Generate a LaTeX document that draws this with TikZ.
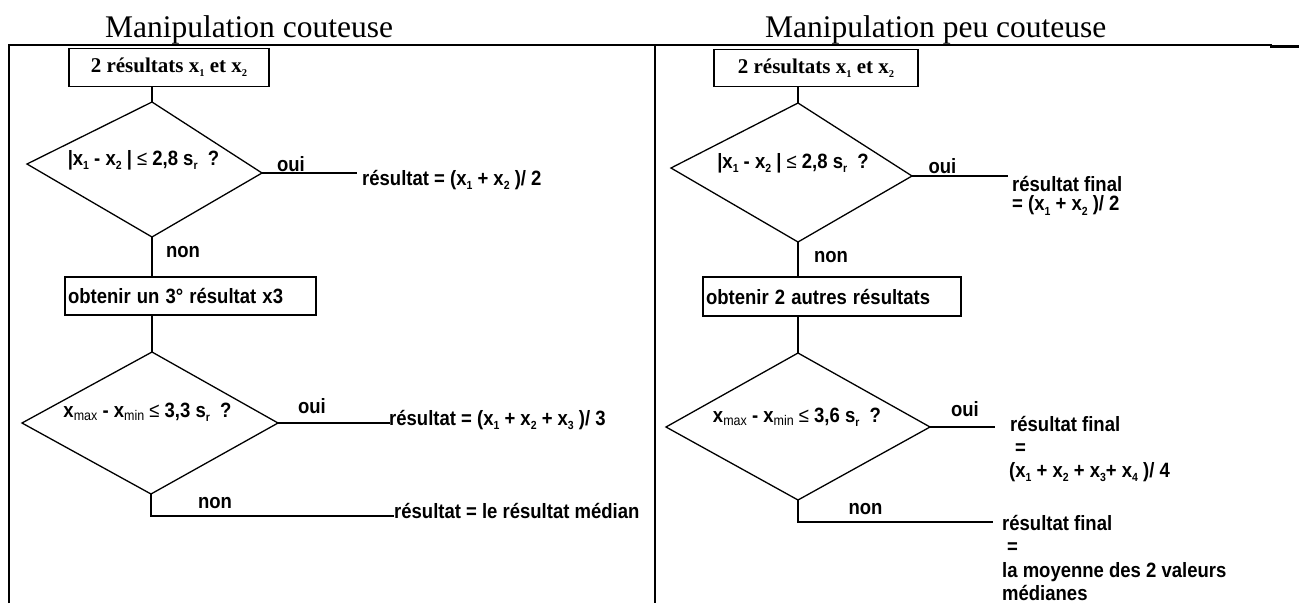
\documentclass[tikz,border=0pt]{standalone}
\usepackage{fontspec}
\setmainfont{Liberation Serif}
\newfontfamily\arialf{Liberation Sans}
\newcommand\sbs[1]{\raisebox{-0.2em}{\fontsize{10.5}{10.5}\selectfont #1}}
\newcommand\sbm[1]{\raisebox{-0.15em}{\mdseries\fontsize{12.5}{12.5}\selectfont #1}}
\newcommand\lesym{{\mdseries ≤}}
\newcommand\tx[1]{\scalebox{1}[1.12]{#1}}
\begin{document}
\begin{tikzpicture}[x=1pt,y=-1pt,
  ttl/.style={font=\fontsize{31.5}{36}\selectfont, inner sep=0, anchor=base west},
  hdbox/.style={draw, line width=1.4pt, font=\bfseries\fontsize{21}{24}\selectfont, inner sep=0, minimum width=#1, minimum height=37.5pt},
  actbox/.style={draw, line width=1.4pt, font=\arialf\bfseries\fontsize{18.5}{22}\selectfont, inner sep=3pt, align=left},
  lbl/.style={font=\arialf\bfseries\fontsize{18.5}{22}\selectfont, inner sep=0},
  res/.style={lbl, anchor=west},
  conn/.style={line width=1.3pt},
  dia/.style={line width=1.3pt, line join=miter},
  frame/.style={line width=2pt},
  thinframe/.style={line width=1.3pt}
]
\useasboundingbox (0,0) rectangle (1299,603);

% ---- frame ----
\draw[frame] (9,603) -- (9,45) -- (1272,45);
\draw[frame, line width=2.4pt] (1270,46.5) -- (1299,46.5);
\draw[thinframe] (655,45) -- (655,524);
\draw[frame] (655,524) -- (655,603);

% ---- titles ----
\node[ttl] (t1) at (105,37) {Manipulation couteuse};
\node[ttl] (t2) at (765,37) {Manipulation peu couteuse};

% ================= left panel =================
\node[hdbox=200pt] (b1) at (169,67.5) {2 résultats x\sbs{1} et x\sbs{2}};
\coordinate (d1t) at (152,102);
\coordinate (d1r) at (262,173);
\coordinate (d1b) at (152,237);
\coordinate (d1l) at (27,164);
\draw[dia] (d1t) -- (d1r) -- (d1b) -- (d1l) -- cycle;
\node[lbl] (q1) at (143.5,160) {\tx{|x\sbs{1} - x\sbs{2} | \lesym{} 2,8 s\sbs{r}\ \ ?}};
\draw[conn] (b1.south -| d1t) -- (d1t);
\node[lbl] (oui1) at (291,164) {\tx{oui}};
\coordinate (e1) at (357,173);
\draw[conn] (d1r) -- (e1);
\node[res] (r1) at (362,180) {\tx{résultat = (x\sbs{1} + x\sbs{2} )/ 2}};
\node[lbl] (non1) at (183,252) {\tx{non}};
\node[actbox, text width=245pt, minimum height=38pt] (b2) at (190.5,296) {\tx{obtenir un 3° résultat x3}};
\draw[conn] (d1b) -- (d1b |- b2.north);

\coordinate (d2t) at (152,352);
\coordinate (d2r) at (278,423);
\coordinate (d2b) at (151,494);
\coordinate (d2l) at (22,423);
\draw[dia] (d2t) -- (d2r) -- (d2b) -- (d2l) -- cycle;
\draw[conn] (b2.south -| d2t) -- (d2t);
\node[lbl] (q2) at (147.5,412) {\tx{x\sbm{max} - x\sbm{min} \lesym{} 3,3 s\sbs{r}\ \ ?}};
\node[lbl] (oui2) at (312,406) {\tx{oui}};
\coordinate (e2) at (390,423);
\draw[conn] (d2r) -- (e2);
\node[res] (r2) at (389,420) {\tx{résultat = (x\sbs{1} + x\sbs{2} + x\sbs{3} )/ 3}};
\node[lbl] (non2) at (215,503) {\tx{non}};
\coordinate (e3) at (394,516);
\draw[conn] (d2b) -- (d2b |- e3) -- (e3);
\node[res] (r3) at (394,511) {\tx{résultat = le résultat médian}};

% ================= right panel =================
\node[hdbox=204pt] (b3) at (816,68) {2 résultats x\sbs{1} et x\sbs{2}};
\coordinate (d3t) at (798,103);
\coordinate (d3r) at (912,176);
\coordinate (d3b) at (798,242);
\coordinate (d3l) at (671,168);
\draw[dia] (d3t) -- (d3r) -- (d3b) -- (d3l) -- cycle;
\draw[conn] (b3.south -| d3t) -- (d3t);
\node[lbl] (q3) at (793,163) {\tx{|x\sbs{1} - x\sbs{2} | \lesym{} 2,8 s\sbs{r}\ \ ?}};
\node[lbl] (oui3) at (942.5,166) {\tx{oui}};
\coordinate (e4) at (1008,176);
\draw[conn] (d3r) -- (e4);
\node[lbl, anchor=north west, align=left, font=\arialf\bfseries\fontsize{18.5}{19.5}\selectfont] (r4) at (1012,176) {\tx{résultat final}\\\tx{= (x\sbs{1} + x\sbs{2} )/ 2}};
\node[lbl] (non3) at (831,257) {\tx{non}};
\node[actbox, text width=252pt, minimum height=39pt] (b4) at (832,296.5) {\tx{obtenir 2 autres résultats}};
\draw[conn] (d3b) -- (d3b |- b4.north);

\coordinate (d4t) at (798,353);
\coordinate (d4r) at (930,427);
\coordinate (d4b) at (798,500);
\coordinate (d4l) at (666,427);
\draw[dia] (d4t) -- (d4r) -- (d4b) -- (d4l) -- cycle;
\draw[conn] (b4.south -| d4t) -- (d4t);
\node[lbl] (q4) at (797,417) {\tx{x\sbm{max} - x\sbm{min} \lesym{} 3,6 s\sbs{r}\ \ ?}};
\node[lbl] (oui4) at (965,409) {\tx{oui}};
\coordinate (e5) at (995,427);
\draw[conn] (d4r) -- (e5);
\node[lbl, anchor=north west, align=left, font=\arialf\bfseries\fontsize{18.5}{23}\selectfont] (r5) at (1009,416) {\hspace*{1pt}\tx{résultat final}\\\hspace*{6pt}\tx{=}\\\tx{(x\sbs{1} + x\sbs{2} + x\sbs{3}+ x\sbs{4} )/ 4}};
\node[lbl] (non4) at (865.5,509) {\tx{non}};
\coordinate (e6) at (993,522);
\draw[conn] (d4b) -- (d4b |- e6) -- (e6);
\node[lbl, anchor=north west, align=left, font=\arialf\bfseries\fontsize{18.5}{23.4}\selectfont] (r6) at (1002,515) {\tx{résultat final}\\\hspace*{5pt}\tx{=}\\\tx{la moyenne des 2 valeurs}\\\tx{médianes}};
\end{tikzpicture}
\end{document}
